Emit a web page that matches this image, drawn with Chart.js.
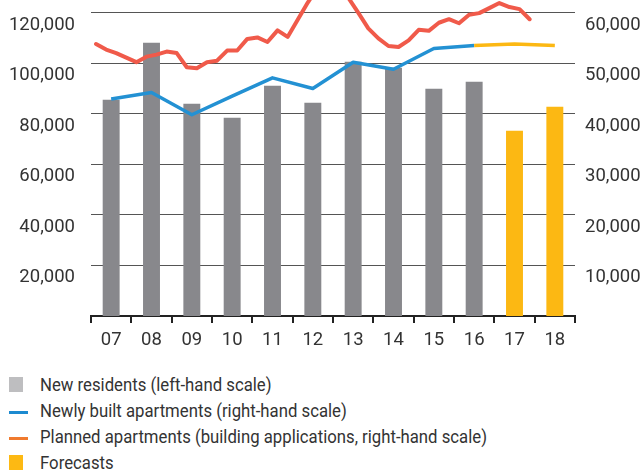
<!DOCTYPE html>
<html>
<head>
<meta charset="utf-8">
<script src="https://cdn.jsdelivr.net/npm/chart.js@4.4.1/dist/chart.umd.min.js"></script>
<style>
  html, body { margin: 0; padding: 0; background: #fff; }
  #wrap { position: relative; width: 643px; height: 356px; }
  #legend { position: absolute; left: 0; top: 372px; font-family: "Liberation Sans Narrow", "Roboto", sans-serif; font-size: 18px; color: #333; }
  .item { position: relative; height: 26px; line-height: 26px; white-space: nowrap; }
  .item span.t { position: absolute; left: 40px; top: 0; transform: scaleX(0.93); transform-origin: 0 50%; }
  .sq { position: absolute; left: 9px; top: 5px; width: 14px; height: 15px; }
  .ln { position: absolute; left: 9px; top: 13px; width: 19px; height: 3px; }
</style>
</head>
<body>
<div id="wrap"><canvas id="chart" width="643" height="356"></canvas></div>
<div id="legend">
  <div class="item"><span class="sq" style="background:#bebec0"></span><span class="t">New residents (left-hand scale)</span></div>
  <div class="item"><span class="ln" style="background:#1c8ad0"></span><span class="t">Newly built apartments (right-hand scale)</span></div>
  <div class="item"><span class="ln" style="background:#f07a2e"></span><span class="t">Planned apartments (building applications, right-hand scale)</span></div>
  <div class="item"><span class="sq" style="background:#fdb913"></span><span class="t">Forecasts</span></div>
</div>
<script>
// yearly categories
const years = ['07', '08', '09', '10', '11', '12', '13', '14', '15', '16', '17', '18'];
const firstForecast = 10; // '17' and '18' are forecasts

// new residents, left-hand scale
const newResidents = [85500, 108100, 84000, 78400, 91100, 84400, 100600, 98200, 89900, 92700, 73300, 82800];

// newly built apartments, right-hand scale
const newlyBuilt = [42900, 44200, 39800, 43500, 47100, 45000, 50200, 48800, 52900, 53500, 53800, 53500];

// planned apartments (building applications), quarterly from Q1 2007, right-hand scale
const planned = [
  53800, 52700, 52000, 51100, 50200, 51300, 51700, 52300, 52000, 49200,
  49000, 50200, 50500, 52500, 52500, 54800, 55100, 54200, 56500, 55200,
  58600, 62000, 65000, 66000, 65000, 63000, 60000, 56900, 54900, 53400,
  53200, 54500, 56600, 56400, 58000, 58700, 57900, 59600, 59900, 60900,
  61900, 61100, 60700, 58700
];

const leftTicks = [20000, 40000, 60000, 80000, 100000, 120000];
const rightTicks = [10000, 20000, 30000, 40000, 50000, 60000];

const grey = '#88888c';
const yellow = '#fcb813';
const blue = '#2391d3';
const red = '#f05a4a';

const tickFont = { family: 'Roboto', size: 18.5 };
const fmt = v => v.toLocaleString('en-US');

new Chart(document.getElementById('chart'), {
    type: 'bar',
    data: {
        labels: years,
        datasets: [{
            type: 'line',
            label: 'Planned apartments',
            data: planned.map((v, i) => ({ x: (i + 0.5) / 4, y: v })),
            xAxisID: 'xq',
            yAxisID: 'y2',
            borderColor: red,
            borderWidth: 4,
            pointRadius: 0,
            tension: 0,
            borderJoinStyle: 'round',
            borderCapStyle: 'round'
        }, {
            type: 'line',
            label: 'Newly built apartments',
            data: newlyBuilt,
            xAxisID: 'x',
            yAxisID: 'y2',
            borderColor: blue,
            borderWidth: 3.5,
            pointRadius: 0,
            tension: 0,
            borderJoinStyle: 'round',
            segment: {
                borderColor: ctx => ctx.p0DataIndex >= firstForecast - 1 ? yellow : blue
            }
        }, {
            label: 'New residents',
            data: newResidents,
            xAxisID: 'x',
            yAxisID: 'y',
            grouped: false,
            backgroundColor: newResidents.map((v, i) => i >= firstForecast ? yellow : grey),
            categoryPercentage: 1,
            barPercentage: 0.42
        }]
    },
    options: {
        responsive: false,
        animation: false,
        devicePixelRatio: 1,
        layout: { padding: 0 },
        plugins: { legend: { display: false }, tooltip: { enabled: false } },
        scales: {
            x: {
                afterFit: s => { s.height = 40; },
                grid: { drawOnChartArea: false, drawTicks: true, tickLength: 7, color: '#222', lineWidth: 2 },
                border: { display: true, color: '#222', width: 2 },
                ticks: { font: tickFont, color: '#333', padding: 6 }
            },
            xq: {
                type: 'linear',
                display: false,
                offset: false,
                grid: { offset: false },
                min: 0,
                max: 12
            },
            y: {
                position: 'left',
                min: 0,
                max: 125000,
                afterFit: s => { s.width = 91; },
                afterBuildTicks: s => { s.ticks = leftTicks.map(v => ({ value: v })); },
                border: { display: false },
                grid: { color: '#555', lineWidth: 1, drawTicks: true, tickLength: 16, tickColor: 'rgba(0,0,0,0)' },
                ticks: { font: tickFont, color: '#333', padding: 0, align: 'start', labelOffset: 3, callback: v => fmt(v) }
            },
            y2: {
                position: 'right',
                min: 0,
                max: 62500,
                afterFit: s => { s.width = 68; },
                afterBuildTicks: s => { s.ticks = rightTicks.map(v => ({ value: v })); },
                border: { display: false },
                grid: { display: false, drawTicks: true, tickLength: 10 },
                ticks: { font: tickFont, color: '#333', padding: 0, align: 'start', labelOffset: 3, callback: v => fmt(v) }
            }
        }
    }
});
</script>
</body>
</html>
